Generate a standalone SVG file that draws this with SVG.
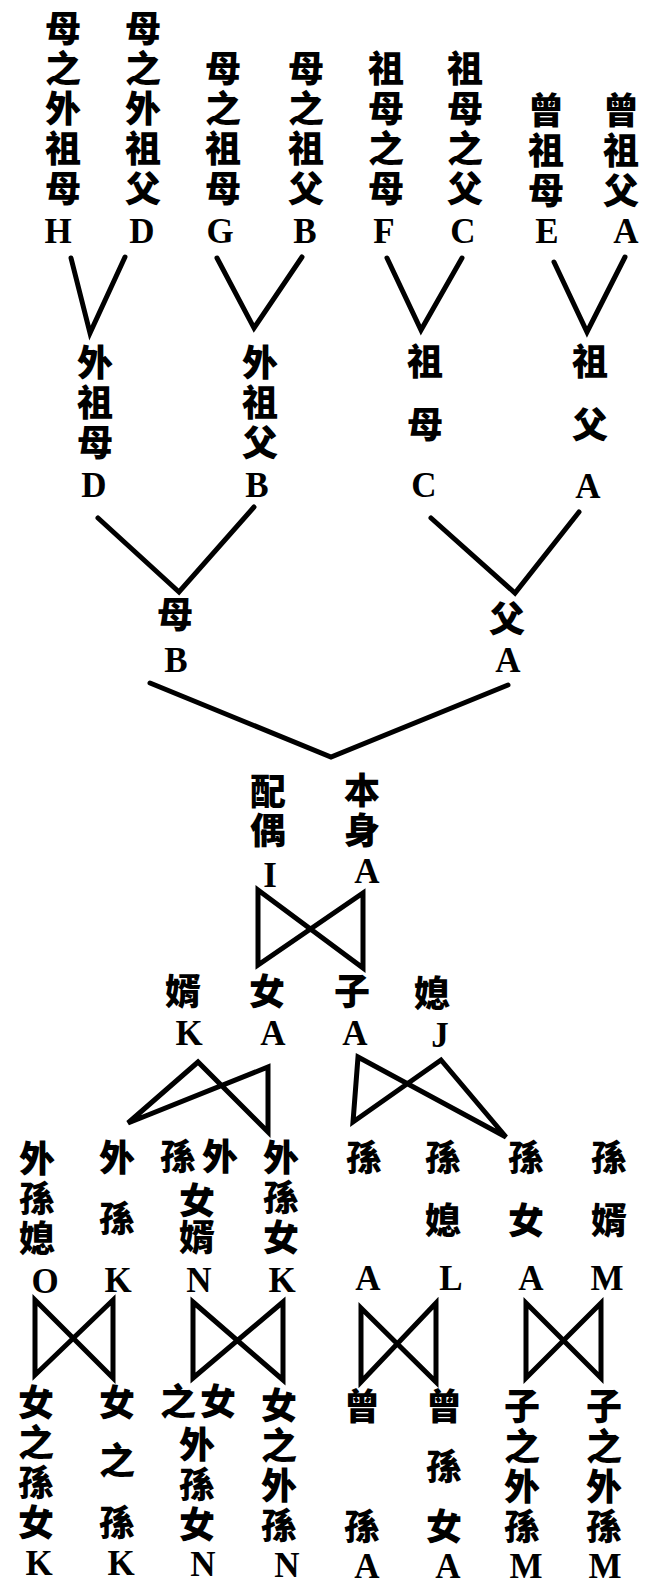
<svg xmlns="http://www.w3.org/2000/svg" width="648" height="1586" viewBox="0 0 648 1586">
<style>
.v{font-family:"Noto Sans CJK TC","Noto Sans CJK SC",sans-serif;font-weight:900;font-size:36px;writing-mode:vertical-rl;fill:#000}
.s{letter-spacing:4px}
.c{font-family:"Noto Sans CJK TC","Noto Sans CJK SC",sans-serif;font-weight:900;font-size:36px;text-anchor:middle;fill:#000}
.l{font-family:"Liberation Serif",serif;font-weight:bold;font-size:35px;text-anchor:middle;fill:#000}
.k{fill:none;stroke:#000;stroke-width:5;stroke-linejoin:miter;stroke-linecap:round}
</style>
<rect width="648" height="1586" fill="#fff"/>
<g id="connectors">
<polyline class="k" points="71,258 90,333 125,257"/>
<polyline class="k" points="217,258 254,328 302,257"/>
<polyline class="k" points="387,258 421,330 462,258"/>
<polyline class="k" points="554,262 587,332 625,257"/>
<polyline class="k" points="98,518 179,592 254,507"/>
<polyline class="k" points="431,518 515,593 579,512"/>
<polyline class="k" points="150,683 331,757 508,685"/>
<polygon class="k" points="258,890 363,968 363,893 258,965"/>
<polygon class="k" points="128,1123 198,1062 268,1132 268,1067"/>
<polygon class="k" points="358,1057 506,1137 441,1060 353,1122"/>
<polygon class="k" points="35,1300 113,1378 113,1300 35,1375"/>
<polygon class="k" points="193,1302 283,1380 283,1302 193,1378"/>
<polygon class="k" points="361,1308 436,1382 436,1303 361,1382"/>
<polygon class="k" points="526,1303 601,1378 601,1303 526,1378"/>
</g>
<g id="n-H"><text class="v s" x="63" y="10">母之外祖母</text><text class="l" x="58" y="243">H</text></g>
<g id="n-D"><text class="v s" x="143" y="10">母之外祖父</text><text class="l" x="142" y="243">D</text></g>
<g id="n-G"><text class="v s" x="223" y="50">母之祖母</text><text class="l" x="220" y="243">G</text></g>
<g id="n-B"><text class="v s" x="306" y="50">母之祖父</text><text class="l" x="305" y="243">B</text></g>
<g id="n-F"><text class="v s" x="386" y="50">祖母之母</text><text class="l" x="384" y="243">F</text></g>
<g id="n-C"><text class="v s" x="465" y="50">祖母之父</text><text class="l" x="463" y="243">C</text></g>
<g id="n-E"><text class="v s" x="546" y="92">曾祖母</text><text class="l" x="547" y="243">E</text></g>
<g id="n-A"><text class="v s" x="621" y="92">曾祖父</text><text class="l" x="626" y="243">A</text></g>
<g id="n-wzmD"><text class="v s" x="95" y="344">外祖母</text><text class="l" x="94" y="497">D</text></g>
<g id="n-wzfB"><text class="v s" x="260" y="344">外祖父</text><text class="l" x="257" y="497">B</text></g>
<g id="n-zmC"><text class="v" x="425" y="343">祖</text><text class="v" x="425" y="406">母</text><text class="l" x="424" y="497">C</text></g>
<g id="n-zfA"><text class="v" x="590" y="343">祖</text><text class="v" x="590" y="406">父</text><text class="l" x="588" y="498">A</text></g>
<g id="n-mB"><text class="v" x="175" y="596">母</text><text class="l" x="176" y="672">B</text></g>
<g id="n-fA"><text class="v" x="507" y="600">父</text><text class="l" x="508" y="672">A</text></g>
<g id="n-pI"><text class="v" x="268" y="773" style="letter-spacing:3px">配偶</text><text class="l" x="270" y="887">I</text></g>
<g id="n-bA"><text class="v s" x="362" y="772">本身</text><text class="l" x="367" y="883">A</text></g>
<g id="n-xK"><text class="v" x="183" y="973">婿</text><text class="l" x="189" y="1045">K</text></g>
<g id="n-nA"><text class="v" x="267" y="973">女</text><text class="l" x="273" y="1045">A</text></g>
<g id="n-zA"><text class="v" x="352" y="973">子</text><text class="l" x="355" y="1045">A</text></g>
<g id="n-xJ"><text class="v" x="432" y="975">媳</text><text class="l" x="440" y="1047">J</text></g>
<g id="n-wsxO"><text class="v s" x="37" y="1140">外孫媳</text><text class="l" x="45" y="1293">O</text></g>
<g id="n-wsK"><text class="v" x="117" y="1139">外</text><text class="v" x="117" y="1200">孫</text><text class="l" x="118" y="1292">K</text></g>
<g id="n-wsnxN"><text class="c" x="202" y="1170" style="letter-spacing:6px">孫外</text><text class="v" x="197" y="1182" style="letter-spacing:1px">女婿</text><text class="l" x="199" y="1292">N</text></g>
<g id="n-wsnK"><text class="v s" x="281" y="1139">外孫女</text><text class="l" x="282" y="1292">K</text></g>
<g id="n-sA"><text class="v" x="364" y="1139">孫</text><text class="l" x="368" y="1290">A</text></g>
<g id="n-sxL"><text class="v" x="443" y="1139">孫</text><text class="v" x="443" y="1202">媳</text><text class="l" x="451" y="1290">L</text></g>
<g id="n-snA"><text class="v" x="526" y="1139">孫</text><text class="v" x="526" y="1202">女</text><text class="l" x="531" y="1290">A</text></g>
<g id="n-sxM"><text class="v" x="609" y="1139">孫</text><text class="v" x="609" y="1202">婿</text><text class="l" x="607" y="1290">M</text></g>
<g id="n-nzsnK"><text class="v s" x="36" y="1384">女之孫女</text><text class="l" x="39" y="1575">K</text></g>
<g id="n-nzsK"><text class="v" x="117" y="1384">女</text><text class="v" x="117" y="1442">之</text><text class="v" x="117" y="1504">孫</text><text class="l" x="121" y="1575">K</text></g>
<g id="n-nzwsnN"><text class="c" x="200" y="1415" style="letter-spacing:4px">之女</text><text class="v s" x="197" y="1426">外孫女</text><text class="l" x="203" y="1576">N</text></g>
<g id="n-nzwsN"><text class="v s" x="279" y="1387">女之外孫</text><text class="l" x="287" y="1577">N</text></g>
<g id="n-csA"><text class="v" x="362" y="1388">曾</text><text class="v" x="362" y="1508">孫</text><text class="l" x="367" y="1578">A</text></g>
<g id="n-csnA"><text class="v" x="444" y="1388">曾</text><text class="v" x="444" y="1448">孫</text><text class="v" x="444" y="1508">女</text><text class="l" x="448" y="1578">A</text></g>
<g id="n-zzwsM1"><text class="v s" x="522" y="1388">子之外孫</text><text class="l" x="526" y="1578">M</text></g>
<g id="n-zzwsM2"><text class="v s" x="604" y="1388">子之外孫</text><text class="l" x="605" y="1578">M</text></g>
</svg>
